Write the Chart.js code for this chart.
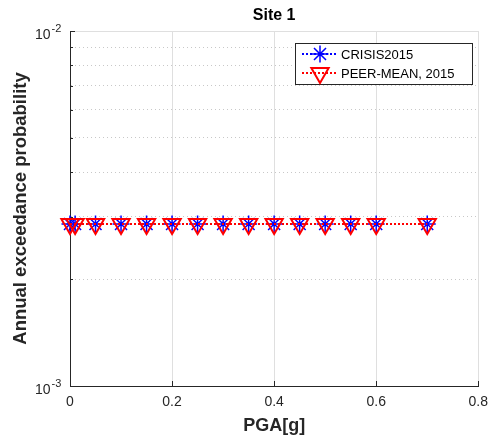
<!DOCTYPE html>
<html>
<head>
<meta charset="utf-8">
<script src="https://cdn.jsdelivr.net/npm/chart.js@4.4.1/dist/chart.umd.min.js"></script>
<style>
  html, body { margin: 0; padding: 0; background: #fff; }
</style>
</head>
<body>
<canvas id="hazard" width="496" height="440"></canvas>
<script>
// ── Data ──
var pga = [0, 0.01, 0.05, 0.1, 0.15, 0.2, 0.25, 0.3, 0.35, 0.4, 0.45, 0.5, 0.55, 0.6, 0.7];
var crisis2015 = [0.00286, 0.00286, 0.00286, 0.00286, 0.00286, 0.00286, 0.00286, 0.00286,
                  0.00286, 0.00286, 0.00286, 0.00286, 0.00286, 0.00286, 0.00286];
var peerMean2015 = [0.00286, 0.00286, 0.00286, 0.00286, 0.00286, 0.00286, 0.00286, 0.00286,
                    0.00286, 0.00286, 0.00286, 0.00286, 0.00286, 0.00286, 0.00286];
var seriesNames = ['CRISIS2015', 'PEER-MEAN, 2015'];
var yDecades = [0.001, 0.01];
var yGridValues = [0.001, 0.002, 0.003, 0.004, 0.005, 0.006, 0.007, 0.008, 0.009, 0.01];

var FONT = "'Liberation Sans', Arial, Helvetica, sans-serif";
var AXIS = '#262626';

function toPoints(xs, ys) {
  return xs.map(function(x, i) { return { x: x, y: ys[i] }; });
}

function isDecade(v) {
  return yDecades.some(function(d) { return Math.abs(d - v) < d * 1e-6; });
}

// ── MATLAB-ish axes decorations: inward ticks, top edge, 10^n labels, legend ──
var matlabAxes = {
  id: 'matlabAxes',
  beforeDatasetsDraw: function(chart) {
    var ctx = chart.ctx, a = chart.chartArea;
    var xs = chart.scales.x, ys = chart.scales.y;
    ctx.save();
    // top edge (major grid at 1e-2)
    ctx.strokeStyle = '#dfdfdf';
    ctx.lineWidth = 1;
    ctx.beginPath();
    ctx.moveTo(a.left, Math.round(a.top) + 0.5);
    ctx.lineTo(a.right, Math.round(a.top) + 0.5);
    ctx.stroke();

    // inward ticks
    ctx.strokeStyle = AXIS;
    ctx.beginPath();
    xs.ticks.forEach(function(t) {
      var px = Math.round(xs.getPixelForValue(t.value)) + 0.5;
      ctx.moveTo(px, a.bottom);
      ctx.lineTo(px, a.bottom - 5);
    });
    ys.ticks.forEach(function(t) {
      var py = Math.round(ys.getPixelForValue(t.value)) + 0.5;
      var len = isDecade(t.value) ? 5 : 3;
      ctx.moveTo(a.left, py);
      ctx.lineTo(a.left + len, py);
    });
    ctx.stroke();
    ctx.restore();
  },
  afterDraw: function(chart) {
    var ctx = chart.ctx;
    var ys = chart.scales.y;
    ctx.save();

    // y tick labels 10^n
    ctx.fillStyle = AXIS;
    ctx.textBaseline = 'alphabetic';
    ctx.textAlign = 'left';
    yDecades.forEach(function(v) {
      var py = ys.getPixelForValue(v);
      var exp = Math.round(Math.log10(v));
      ctx.font = '14px ' + FONT;
      ctx.fillText('10', 35, py + 8);
      var w = ctx.measureText('10').width;
      ctx.font = '11px ' + FONT;
      ctx.fillText(String(exp), 35 + w + 1, py + 1);
    });

    // legend
    var bx = 295.5, by = 43.5, bw = 177, bh = 41;
    ctx.fillStyle = '#fff';
    ctx.fillRect(bx, by, bw, bh);
    ctx.strokeStyle = AXIS;
    ctx.lineWidth = 1;
    ctx.setLineDash([]);
    ctx.strokeRect(bx, by, bw, bh);

    chart.data.datasets.forEach(function(ds, i) {
      var cy = 54 + i * 19;
      ctx.save();
      ctx.strokeStyle = ds.borderColor;
      ctx.lineWidth = ds.borderWidth;
      ctx.setLineDash(ds.borderDash);
      ctx.beginPath();
      ctx.moveTo(302, cy);
      ctx.lineTo(338, cy);
      ctx.stroke();
      ctx.setLineDash([]);
      ctx.fillStyle = 'rgba(0,0,0,0)';
      ctx.lineWidth = ds.pointBorderWidth;
      Chart.helpers.drawPoint(ctx, {
        pointStyle: ds.pointStyle,
        rotation: ds.pointRotation || 0,
        radius: ds.pointRadius,
        borderWidth: ds.pointBorderWidth
      }, 320, cy);
      ctx.restore();

      ctx.fillStyle = '#000';
      ctx.font = '13px ' + FONT;
      ctx.textBaseline = 'middle';
      ctx.fillText(ds.label, 341, cy + 1);
    });
    ctx.restore();
  }
};

new Chart(document.getElementById('hazard').getContext('2d'), {
  type: 'line',
  data: {
    datasets: [{
      label: seriesNames[0],
      data: toPoints(pga, crisis2015),
      borderColor: '#0000ff', borderWidth: 2, borderDash: [2, 2],
      pointStyle: 'star', pointRadius: 8.5, pointBorderWidth: 1.5,
      pointBorderColor: '#0000ff', pointBackgroundColor: 'rgba(0,0,0,0)',
      clip: false, order: 1
    }, {
      label: seriesNames[1],
      data: toPoints(pga, peerMean2015),
      borderColor: '#ff0000', borderWidth: 2, borderDash: [2, 2],
      pointStyle: 'triangle', pointRotation: 180, pointRadius: 10, pointBorderWidth: 2,
      pointBorderColor: '#ff0000', pointBackgroundColor: 'rgba(0,0,0,0)',
      clip: false, order: 0
    }]
  },
  options: {
    responsive: false,
    animation: false,
    events: [],
    layout: { padding: { left: 0, right: 13, top: 0, bottom: 0 } },
    plugins: {
      legend: { display: false },
      tooltip: { enabled: false },
      title: {
        display: true, text: 'Site 1', fullSize: false, color: '#000',
        font: { family: FONT, size: 16, weight: 'bold' },
        padding: { top: 6, bottom: 5.8 }
      }
    },
    scales: {
      x: {
        type: 'linear', min: 0, max: 0.8,
        ticks: { stepSize: 0.2, padding: 8, color: AXIS, font: { family: FONT, size: 14 } },
        grid: { color: '#dfdfdf', drawTicks: false },
        border: { color: AXIS },
        title: {
          display: true, text: 'PGA[g]', color: AXIS,
          font: { family: FONT, size: 18, weight: 'bold' },
          padding: { top: 0, bottom: 3 }
        },
        afterFit: function(s) { s.height = 54; }
      },
      y: {
        type: 'logarithmic', min: 0.001, max: 0.01,
        ticks: { display: false },
        afterBuildTicks: function(s) {
          s.ticks = yGridValues.map(function(v) { return { value: v, major: isDecade(v) }; });
        },
        grid: {
          drawTicks: false,
          color: function(c) { return c.tick && isDecade(c.tick.value) ? 'rgba(0,0,0,0)' : '#c8c8c8'; }
        },
        border: { color: AXIS, dash: [1, 3] },
        title: {
          display: true, text: 'Annual exceedance probability', color: AXIS,
          font: { family: FONT, size: 18.5, weight: 'bold' },
          padding: { top: 10, bottom: 0 }
        },
        afterFit: function(s) { s.width = 70; }
      }
    }
  },
  plugins: [matlabAxes]
});
</script>
</body>
</html>
